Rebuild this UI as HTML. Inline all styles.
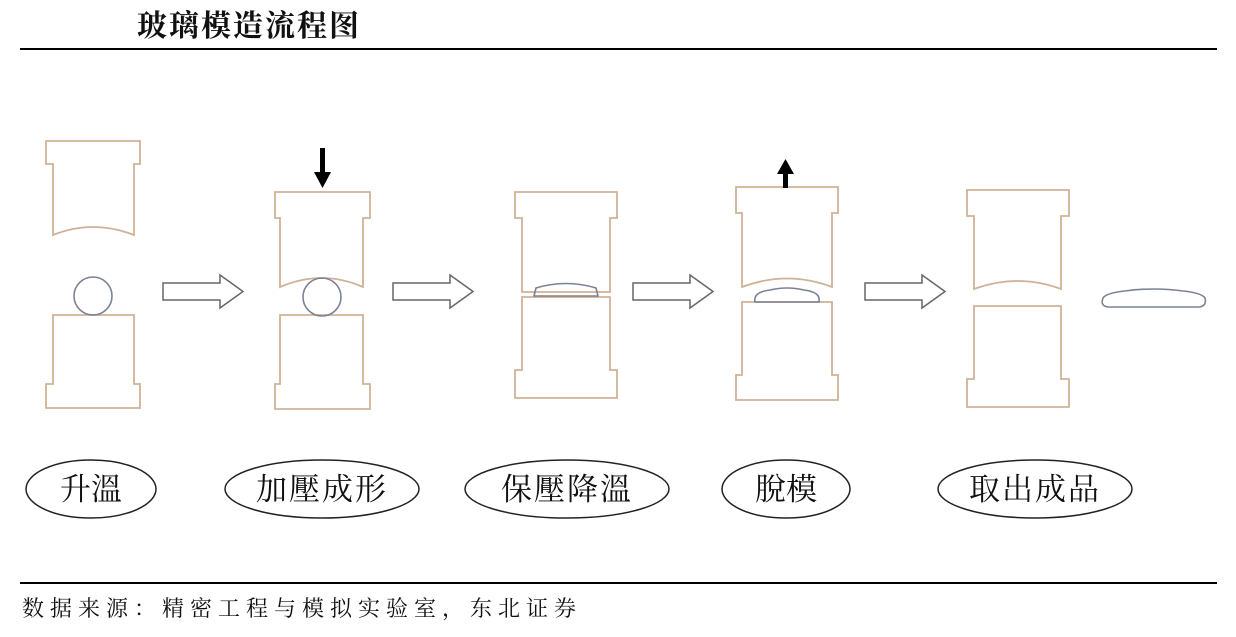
<!DOCTYPE html>
<html><head><meta charset="utf-8"><style>
html,body{margin:0;padding:0;background:#fff;}
body{width:1236px;height:637px;overflow:hidden;position:relative;}
svg{position:absolute;left:0;top:0;}
text{font-family:"Liberation Serif","Noto Serif CJK SC","Noto Sans CJK SC",serif;fill:#111;}
</style></head><body>
<svg width="1236" height="637" viewBox="0 0 1236 637">
<text x="137" y="36" font-size="30" font-weight="bold" letter-spacing="2">玻璃模造流程图</text>
<rect x="20" y="48" width="1197" height="2" fill="#000"/>
<g fill="none" stroke="#cfb296" stroke-width="1.8">
<path d="M46 141 H140 V164 H134 V235 Q93 219 53 235 V164 H46 Z"/>
<path d="M53 315 H134 V384 H140 V408 H46 V384 H53 Z"/>
<path d="M275 192 H370 V218 H363 V287 Q322 269 280 287 V218 H275 Z"/>
<path d="M280 315 H363 V384 H370 V409 H275 V384 H280 Z"/>
<path d="M515 192 H617 V218 H610 V292 H522 V218 H515 Z"/>
<path d="M522 297 H610 V370 H617 V398 H515 V370 H522 Z"/>
<path d="M736 187 H838 V213 H832 V287 Q787 270 742 287 V213 H736 Z"/>
<path d="M742 302 H832 V375 H838 V400 H736 V375 H742 Z"/>
<path d="M967 190 H1069 V216 H1061 V289 Q1018 273 974 289 V216 H967 Z"/>
<path d="M974 306 H1061 V379 H1069 V407 H967 V379 H974 Z"/>
</g>
<g fill="none" stroke="#7d8194" stroke-width="1.6">
<circle cx="93" cy="296" r="19"/>
<circle cx="322" cy="297" r="19"/>
<path d="M534 296 L536 288 Q566 279 596 288 L598 296 Z"/>
<path d="M755 302 Q753 292 770 290 Q787 286 804 290 Q821 292 819 302 Z"/>
<path d="M1108 307 Q1100 306 1103 298 Q1106 293 1125 291 Q1154 287 1183 291 Q1202 293 1205 298 Q1207 306 1199 307 Z"/>
</g>
<g fill="#fff" stroke="#666" stroke-width="1.5">
<path d="M163 283 H220 V275 L243 291.5 L220 308 V300 H163 Z"/>
<path d="M393 283 H450 V275 L473 291.5 L450 308 V300 H393 Z"/>
<path d="M633 283 H690 V275 L713 291.5 L690 308 V300 H633 Z"/>
<path d="M865 283 H922 V275 L945 291.5 L922 308 V300 H865 Z"/>
</g>
<rect x="320" y="148" width="5" height="28" fill="#000"/>
<path d="M314 172 L331 172 L322.5 188 Z" fill="#000"/>
<rect x="783" y="170" width="5" height="18" fill="#000"/>
<path d="M777 174 L794 174 L785.5 159 Z" fill="#000"/>
<g fill="#fff" stroke="#222" stroke-width="1.5">
<ellipse cx="91" cy="489" rx="65" ry="29"/>
<ellipse cx="322" cy="489" rx="97" ry="29"/>
<ellipse cx="567" cy="489" rx="102" ry="29"/>
<ellipse cx="786" cy="489" rx="64" ry="29"/>
<ellipse cx="1035" cy="489" rx="97" ry="29"/>
</g>
<g font-size="31" text-anchor="middle">
<text x="91" y="500">升溫</text>
<text x="322" y="500" letter-spacing="2">加壓成形</text>
<text x="567" y="500" letter-spacing="2">保壓降溫</text>
<text x="786" y="500">脫模</text>
<text x="1035" y="500" letter-spacing="2">取出成品</text>
</g>
<rect x="20" y="582" width="1197" height="2" fill="#000"/>
<text x="22" y="616" font-size="22" letter-spacing="6">数据来源：精密工程与模拟实验室，东北证券</text>
</svg>
</body></html>
